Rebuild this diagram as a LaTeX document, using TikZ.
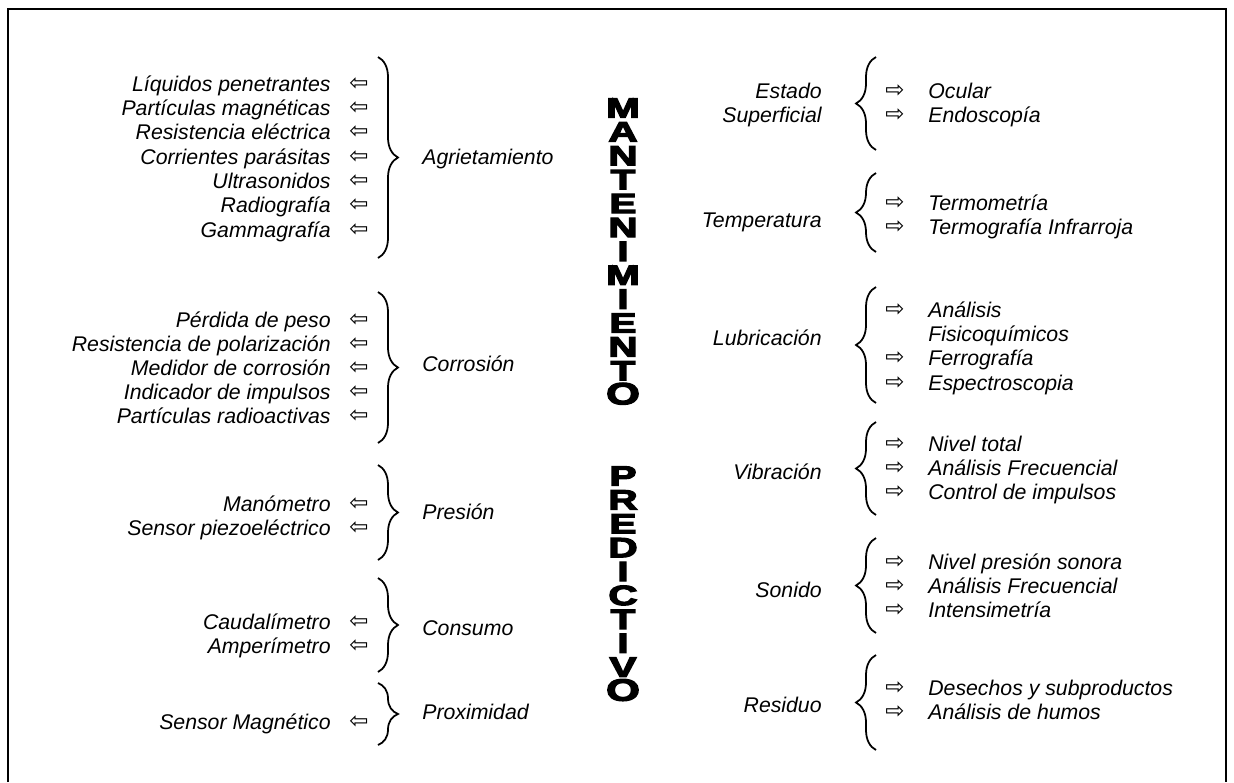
\documentclass[tikz,border=0pt]{standalone}
\usepackage{fontspec}
\setmainfont{Liberation Sans}
\newfontfamily\arrowfont{DejaVu Sans}
\newfontfamily\heavyfont[FakeBold=4]{Liberation Sans}
\newcommand\wl[1]{\scalebox{1.45}[1]{#1}}
\newcommand\wo{\scalebox{1.55}[1.1]{O}}
\usetikzlibrary{decorations.pathreplacing}

\begin{document}
\begin{tikzpicture}[x=0.02cm, y=-0.02cm,
  every node/.style={font=\fontsize{12.1}{13.9}\selectfont\itshape, inner sep=0pt},
  lft/.style={anchor=base east},
  rgt/.style={anchor=base west},
  arr/.style={font=\arrowfont\fontsize{13}{13}\selectfont},
  brc/.style={decorate, decoration={brace, amplitude=0.4cm}, line width=1pt},
  word/.style={font=\heavyfont\bfseries\fontsize{15.9}{13.6}\selectfont, align=center, anchor=north}]
\useasboundingbox (0,0) rectangle (1234,782);
% frame, open at the bottom
\draw[line width=0.9pt] (8,782) -- (8,9) -- (1226,9) -- (1226,782);

% --- left side ---
\node[lft] (a1) at (331,91) {Líquidos penetrantes};
\node[lft] (a2) at (331,115) {Partículas magnéticas};
\node[lft] (a3) at (331,139) {Resistencia eléctrica};
\node[lft] (a4) at (331,164) {Corrientes parásitas};
\node[lft] (a5) at (331,188) {Ultrasonidos};
\node[lft] (a6) at (331,212) {Radiografía};
\node[lft] (a7) at (331,237) {Gammagrafía};
\node[arr] (a1x) at (359,84) {⇦};
\node[arr] (a2x) at (359,108) {⇦};
\node[arr] (a3x) at (359,132) {⇦};
\node[arr] (a4x) at (359,157) {⇦};
\node[arr] (a5x) at (359,181) {⇦};
\node[arr] (a6x) at (359,205) {⇦};
\node[arr] (a7x) at (359,230) {⇦};
\coordinate (a0t) at (378,57); \coordinate (a0b) at (378,258);
\draw[brc] (a0t) -- (a0b);
\node[rgt] (agr) at (422,164) {Agrietamiento};

\node[lft] (c1) at (331,327) {Pérdida de peso};
\node[lft] (c2) at (331,351) {Resistencia de polarización};
\node[lft] (c3) at (331,375) {Medidor de corrosión};
\node[lft] (c4) at (331,399) {Indicador de impulsos};
\node[lft] (c5) at (331,423) {Partículas radioactivas};
\node[arr] (c1x) at (359,320) {⇦};
\node[arr] (c2x) at (359,344) {⇦};
\node[arr] (c3x) at (359,368) {⇦};
\node[arr] (c4x) at (359,392) {⇦};
\node[arr] (c5x) at (359,416) {⇦};
\coordinate (c0t) at (378,292); \coordinate (c0b) at (378,443);
\draw[brc] (c0t) -- (c0b);
\node[rgt] (cor) at (422,371) {Corrosión};

\node[lft] (p1) at (331,511) {Manómetro};
\node[lft] (p2) at (331,535) {Sensor piezoeléctrico};
\node[arr] (p1x) at (359,504) {⇦};
\node[arr] (p2x) at (359,528) {⇦};
\coordinate (p0t) at (378,465); \coordinate (p0b) at (378,560);
\draw[brc] (p0t) -- (p0b);
\node[rgt] (pre) at (422,519) {Presión};

\node[lft] (q1) at (331,629) {Caudalímetro};
\node[lft] (q2) at (331,653) {Amperímetro};
\node[arr] (q1x) at (359,622) {⇦};
\node[arr] (q2x) at (359,646) {⇦};
\coordinate (q0t) at (378,578); \coordinate (q0b) at (378,672);
\draw[brc] (q0t) -- (q0b);
\node[rgt] (con) at (422,635) {Consumo};

\node[lft] (m1) at (331,729) {Sensor Magnético};
\node[arr] (m1x) at (359,722) {⇦};
\coordinate (m0t) at (378,683); \coordinate (m0b) at (378,745);
\draw[brc] (m0t) -- (m0b);
\node[rgt] (pro) at (422,719) {Proximidad};

% --- centre title ---
\node[word] (mant) at (623,98) {\wl{M}\\\wl{A}\\\wl{N}\\\wl{T}\\\wl{E}\\\wl{N}\\\wl{I}\\\wl{M}\\\wl{I}\\\wl{E}\\\wl{N}\\\wl{T}\\\wo};
\node[word] (pred) at (623,466) {\wl{P}\\\wl{R}\\\wl{E}\\\wl{D}\\\wl{I}\\\wl{C}\\\wl{T}\\\wl{I}\\\wl{V}\\\wo};

% --- right side ---
\node[lft] (est1) at (822,98) {Estado};
\node[lft] (est2) at (822,122) {Superficial};
\coordinate (e0b) at (876,150); \coordinate (e0t) at (876,57);
\draw[brc] (e0b) -- (e0t);
\node[arr] (e1x) at (895,91) {⇨};
\node[arr] (e2x) at (895,115) {⇨};
\node[rgt] (e1) at (928,98) {Ocular};
\node[rgt] (e2) at (928,122) {Endoscopía};

\node[lft] (tem) at (822,227) {Temperatura};
\coordinate (t0b) at (876,252); \coordinate (t0t) at (876,173);
\draw[brc] (t0b) -- (t0t);
\node[arr] (t1x) at (895,203) {⇨};
\node[arr] (t2x) at (895,227) {⇨};
\node[rgt] (t1) at (928,210) {Termometría};
\node[rgt] (t2) at (928,234) {Termografía Infrarroja};

\node[lft] (lub) at (822,345) {Lubricación};
\coordinate (l0b) at (876,403); \coordinate (l0t) at (876,287);
\draw[brc] (l0b) -- (l0t);
\node[arr] (l1x) at (895,310) {⇨};
\node[arr] (l3x) at (895,358) {⇨};
\node[arr] (l4x) at (895,383) {⇨};
\node[rgt] (l1) at (928,317) {Análisis};
\node[rgt] (l2) at (928,341) {Fisicoquímicos};
\node[rgt] (l3) at (928,365) {Ferrografía};
\node[rgt] (l4) at (928,390) {Espectroscopia};

\node[lft] (vib) at (822,479) {Vibración};
\coordinate (v0b) at (876,515); \coordinate (v0t) at (876,422);
\draw[brc] (v0b) -- (v0t);
\node[arr] (v1x) at (895,444) {⇨};
\node[arr] (v2x) at (895,468) {⇨};
\node[arr] (v3x) at (895,492) {⇨};
\node[rgt] (v1) at (928,451) {Nivel total};
\node[rgt] (v2) at (928,475) {Análisis Frecuencial};
\node[rgt] (v3) at (928,499) {Control de impulsos};

\node[lft] (son) at (822,597) {Sonido};
\coordinate (s0b) at (876,633); \coordinate (s0t) at (876,538);
\draw[brc] (s0b) -- (s0t);
\node[arr] (s1x) at (895,562) {⇨};
\node[arr] (s2x) at (895,586) {⇨};
\node[arr] (s3x) at (895,610) {⇨};
\node[rgt] (s1) at (928,569) {Nivel presión sonora};
\node[rgt] (s2) at (928,593) {Análisis Frecuencial};
\node[rgt] (s3) at (928,617) {Intensimetría};

\node[lft] (res) at (822,712) {Residuo};
\coordinate (r0b) at (876,750); \coordinate (r0t) at (876,655);
\draw[brc] (r0b) -- (r0t);
\node[arr] (r1x) at (895,688) {⇨};
\node[arr] (r2x) at (895,712) {⇨};
\node[rgt] (r1) at (928,695) {Desechos y subproductos};
\node[rgt] (r2) at (928,719) {Análisis de humos};
\end{tikzpicture}
\end{document}
